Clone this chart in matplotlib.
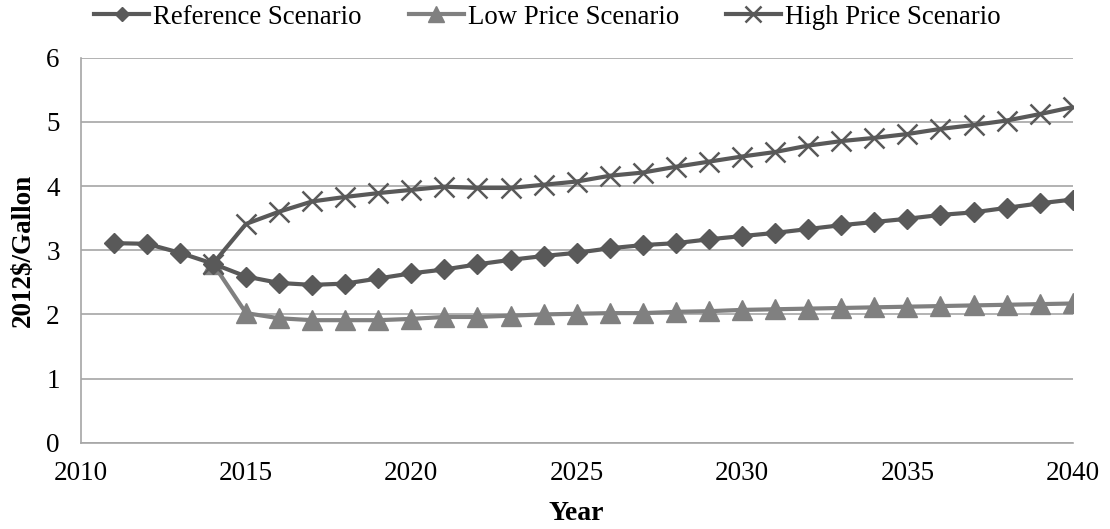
import matplotlib.pyplot as plt
import numpy as np

plt.rcParams["font.family"] = ["Liberation Serif", "DejaVu Serif"]

years = np.arange(2011, 2041)

reference = [3.11, 3.10, 2.96, 2.79, 2.59, 2.49, 2.46, 2.48, 2.56, 2.64,
             2.70, 2.78, 2.85, 2.91, 2.96, 3.03, 3.08, 3.11, 3.17, 3.22,
             3.27, 3.33, 3.39, 3.44, 3.49, 3.55, 3.59, 3.66, 3.73, 3.79]
low_price = [3.11, 3.10, 2.96, 2.79, 2.02, 1.94, 1.91, 1.91, 1.91, 1.93,
             1.96, 1.96, 1.98, 2.00, 2.01, 2.02, 2.02, 2.04, 2.05, 2.07,
             2.08, 2.09, 2.10, 2.11, 2.12, 2.13, 2.14, 2.15, 2.16, 2.17]
high_price = [3.11, 3.10, 2.96, 2.79, 3.41, 3.60, 3.76, 3.83, 3.89, 3.94,
              3.99, 3.97, 3.97, 4.02, 4.07, 4.16, 4.21, 4.30, 4.38, 4.46,
              4.53, 4.63, 4.70, 4.75, 4.81, 4.89, 4.95, 5.02, 5.12, 5.23]

# the low and high scenarios only branch off in 2014
split = 3

dark = "#595959"
light = "#808080"
grid = "#a6a6a6"

fig = plt.figure(figsize=(11.1, 5.29), dpi=100)
ax = fig.add_axes([0.0727, 0.163, 0.8937, 0.728])

ax.plot(years[split:], low_price[split:], color=light, lw=3.0, marker="^",
        ms=15, mec=light, label="Low Price Scenario", zorder=3)
ax.plot(years[split:], high_price[split:], color=dark, lw=3.0, marker="x",
        ms=15, mew=1.8, label="High Price Scenario", zorder=4)
ax.plot(years, reference, color=dark, lw=3.0, marker="D", ms=10,
        label="Reference Scenario", zorder=5)

ax.set_xlim(2010, 2040)
ax.set_ylim(0, 6)
ax.set_xticks(np.arange(2010, 2041, 5))
ax.set_yticks(np.arange(0, 7, 1))
ax.yaxis.grid(True, color=grid, lw=1.2)
ax.set_axisbelow(True)
for side in ("top", "right"):
    ax.spines[side].set_visible(False)
for side in ("left", "bottom"):
    ax.spines[side].set_color(grid)
    ax.spines[side].set_linewidth(1.2)
ax.tick_params(length=0, labelsize=19.5)
ax.tick_params(axis="y", pad=15)
ax.tick_params(axis="x", pad=13)

ax.set_xlabel("Year", fontsize=20, fontweight="bold")
ax.set_ylabel("2012$/Gallon", fontsize=19.5, fontweight="bold")
ax.xaxis.set_label_coords(0.5, -0.15)
ax.yaxis.set_label_coords(-0.045, 0.5)

handles, labels = ax.get_legend_handles_labels()
order = [2, 0, 1]
fig.legend([handles[i] for i in order], [labels[i] for i in order],
           loc="center", bbox_to_anchor=(0.493, 1 - 17 / 529), ncol=3,
           frameon=False, fontsize=19.3, markerscale=0.75, handlelength=2.05,
           handletextpad=0.15, columnspacing=1.75, borderaxespad=0.0,
           borderpad=0.0)

fig.savefig("out.png", dpi=100)
